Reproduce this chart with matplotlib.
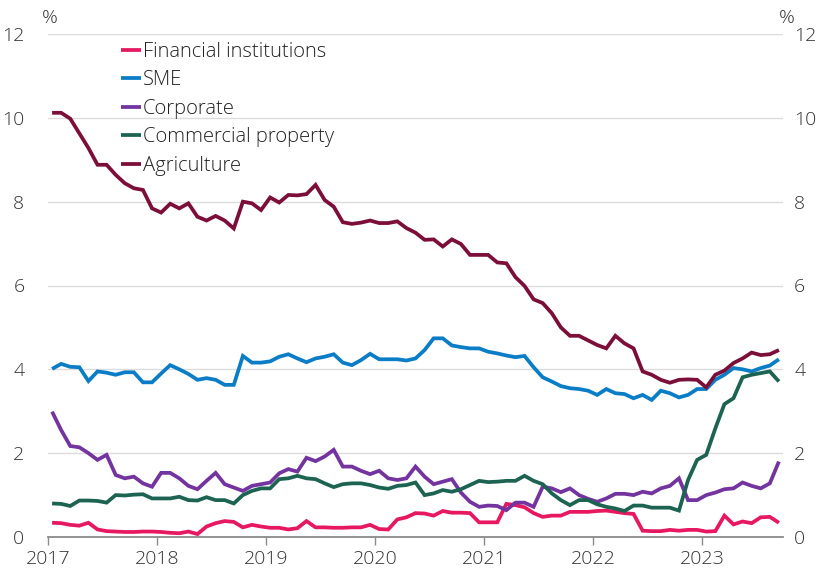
import matplotlib
matplotlib.use("Agg")
import matplotlib.pyplot as plt
import numpy as np

years = [2017, 2018, 2019, 2020, 2021, 2022, 2023]
series_names = ["Financial institutions", "SME", "Corporate", "Commercial property", "Agriculture"]
colors = ["#E6185F", "#0B7DC6", "#7434A0", "#1D6352", "#7C0E3A"]

financial = [0.34, 0.33, 0.29, 0.27, 0.34, 0.18, 0.14, 0.13, 0.12, 0.12, 0.13, 0.13,
             0.12, 0.10, 0.09, 0.13, 0.07, 0.25, 0.33, 0.38, 0.36, 0.23, 0.29, 0.25,
             0.22, 0.22, 0.18, 0.21, 0.38, 0.23, 0.23, 0.22, 0.22, 0.23, 0.23, 0.29,
             0.19, 0.18, 0.42, 0.47, 0.57, 0.56, 0.51, 0.62, 0.58, 0.58, 0.57, 0.35,
             0.35, 0.35, 0.79, 0.76, 0.71, 0.57, 0.48, 0.51, 0.51, 0.60, 0.60, 0.60,
             0.62, 0.63, 0.60, 0.57, 0.55, 0.15, 0.14, 0.14, 0.17, 0.15, 0.17, 0.17,
             0.13, 0.14, 0.51, 0.30, 0.37, 0.33, 0.47, 0.48, 0.34]

sme = [4.01, 4.13, 4.06, 4.05, 3.72, 3.95, 3.92, 3.87, 3.93, 3.93, 3.69, 3.69,
       3.90, 4.10, 4.00, 3.89, 3.75, 3.79, 3.75, 3.63, 3.63, 4.32, 4.16, 4.16,
       4.19, 4.30, 4.36, 4.26, 4.17, 4.26, 4.30, 4.36, 4.16, 4.10, 4.22, 4.37,
       4.24, 4.24, 4.24, 4.21, 4.26, 4.46, 4.74, 4.74, 4.57, 4.53, 4.50, 4.50,
       4.42, 4.38, 4.33, 4.29, 4.32, 4.05, 3.81, 3.71, 3.60, 3.55, 3.53, 3.49,
       3.39, 3.53, 3.43, 3.41, 3.31, 3.39, 3.27, 3.49, 3.43, 3.33, 3.39, 3.53,
       3.53, 3.75, 3.87, 4.03, 4.00, 3.95, 4.03, 4.09, 4.24]

corporate = [2.99, 2.55, 2.17, 2.14, 2.00, 1.84, 1.96, 1.48, 1.40, 1.44, 1.28, 1.20,
             1.53, 1.53, 1.40, 1.22, 1.14, 1.34, 1.53, 1.26, 1.18, 1.10, 1.22, 1.26,
             1.30, 1.52, 1.62, 1.56, 1.89, 1.81, 1.92, 2.08, 1.68, 1.68, 1.58, 1.50,
             1.58, 1.40, 1.36, 1.40, 1.68, 1.44, 1.26, 1.32, 1.38, 1.06, 0.84, 0.72,
             0.75, 0.74, 0.64, 0.82, 0.82, 0.72, 1.20, 1.16, 1.07, 1.16, 1.00, 0.91,
             0.84, 0.92, 1.03, 1.03, 1.00, 1.08, 1.04, 1.16, 1.22, 1.40, 0.88, 0.88,
             1.00, 1.06, 1.14, 1.16, 1.30, 1.22, 1.16, 1.28, 1.80]

commercial = [0.80, 0.79, 0.74, 0.87, 0.87, 0.86, 0.82, 1.00, 0.99, 1.01, 1.02, 0.92,
              0.92, 0.92, 0.96, 0.88, 0.87, 0.95, 0.88, 0.88, 0.80, 1.00, 1.10, 1.16,
              1.16, 1.38, 1.40, 1.46, 1.40, 1.38, 1.28, 1.19, 1.26, 1.28, 1.28, 1.24,
              1.18, 1.15, 1.22, 1.24, 1.30, 1.00, 1.04, 1.12, 1.08, 1.14, 1.24, 1.34,
              1.31, 1.32, 1.34, 1.34, 1.46, 1.34, 1.26, 1.04, 0.88, 0.76, 0.88, 0.88,
              0.78, 0.72, 0.68, 0.62, 0.75, 0.75, 0.70, 0.70, 0.70, 0.63, 1.36, 1.84,
              1.96, 2.59, 3.17, 3.31, 3.81, 3.87, 3.91, 3.95, 3.71]

agriculture = [10.12, 10.12, 9.98, 9.63, 9.28, 8.88, 8.88, 8.64, 8.44, 8.32, 8.28, 7.84,
               7.74, 7.95, 7.84, 7.96, 7.64, 7.55, 7.66, 7.55, 7.36, 8.00, 7.96, 7.80,
               8.10, 7.98, 8.16, 8.15, 8.18, 8.40, 8.04, 7.88, 7.51, 7.47, 7.50, 7.55,
               7.49, 7.49, 7.53, 7.37, 7.26, 7.09, 7.10, 6.93, 7.10, 6.99, 6.73, 6.73,
               6.73, 6.55, 6.53, 6.20, 5.99, 5.67, 5.58, 5.34, 5.00, 4.80, 4.80, 4.69,
               4.58, 4.50, 4.80, 4.62, 4.50, 3.95, 3.87, 3.75, 3.68, 3.75, 3.76, 3.75,
               3.57, 3.87, 3.97, 4.15, 4.26, 4.40, 4.34, 4.36, 4.46]

yticks = [0, 2, 4, 6, 8, 10, 12]

plt.rcParams['font.family'] = ['Open Sans', 'DejaVu Sans']

W, H = 829, 577
fig = plt.figure(figsize=(W / 100, H / 100), dpi=100)
ax = fig.add_axes([48 / W, 1 - 537 / H, (783 - 48) / W, (537 - 34) / H])

data = [financial, sme, corporate, commercial, agriculture]
n = len(agriculture)
x = np.arange(n) + 0.45
for name, vals, c in zip(series_names, data, colors):
    ax.plot(x, vals, color=c, lw=2.7, label=name, solid_joinstyle='miter', solid_capstyle='butt')

ax.set_ylim(0, 12)
ax.set_xlim(0, 80.9)
ax.set_yticks(yticks)
ax.set_yticklabels([str(v) for v in yticks])
ax.set_xticks([12 * i for i in range(len(years))])
ax.set_xticklabels([str(y) for y in years])

ax.grid(axis='y', color='#dcdcdc', lw=1.0)
ax.set_axisbelow(True)
for s in ['top', 'right', 'left']:
    ax.spines[s].set_visible(False)
ax.spines['bottom'].set_color('#8a8a8a')
ax.spines['bottom'].set_linewidth(1.3)

ax.tick_params(axis='y', length=0, labelsize=14, colors='#333333', pad=17)
ax.tick_params(axis='x', length=6, width=1.0, color='#8a8a8a', labelsize=14,
               colors='#333333', pad=3, direction='out')
for lab in ax.get_yticklabels() + ax.get_xticklabels():
    lab.set_fontweight('light')

# right-hand labels
ax2 = ax.twinx()
ax2.set_ylim(0, 12)
ax2.set_yticks(yticks)
ax2.set_yticklabels([str(v) for v in yticks])
for s in ['top', 'right', 'left', 'bottom']:
    ax2.spines[s].set_visible(False)
ax2.tick_params(axis='y', length=0, labelsize=14, colors='#333333', pad=8)
for lab in ax2.get_yticklabels():
    lab.set_fontweight('light')

fig.text(50 / W, 1 - 18 / H, "%", ha='center', va='center', fontsize=14, color='#333333', fontweight='light')
fig.text(787 / W, 1 - 18 / H, "%", ha='center', va='center', fontsize=14, color='#333333', fontweight='light')

leg = ax.legend(loc='upper left', bbox_to_anchor=((121 - 48) / (783 - 48), 1 - (42 - 34) / (537 - 34)),
                frameon=False, fontsize=14.5, handlelength=1.0, handletextpad=0.1,
                labelspacing=0.42, borderaxespad=0, borderpad=0)
for t in leg.get_texts():
    t.set_color('#222222')
    t.set_fontweight('light')

fig.savefig("out.png", dpi=100)
